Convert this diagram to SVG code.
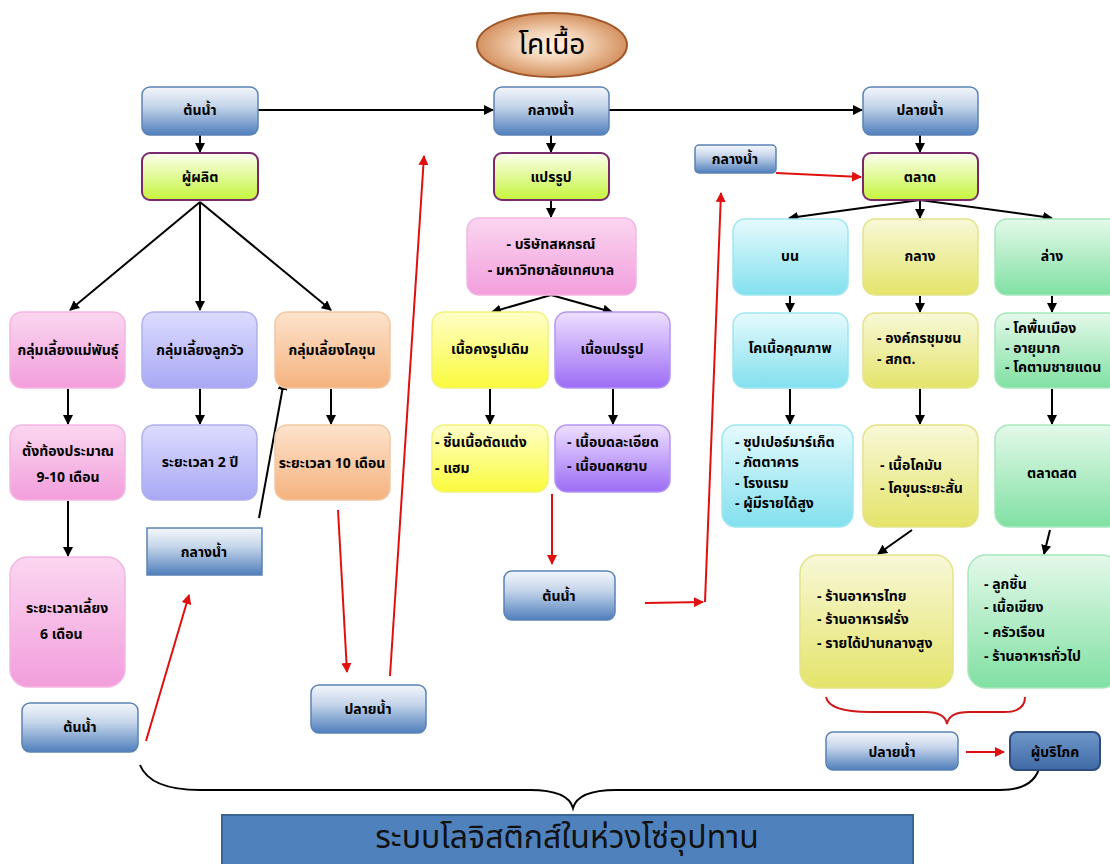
<svg xmlns="http://www.w3.org/2000/svg" width="1110" height="864" viewBox="0 0 1110 864">
<defs>
<linearGradient id="gBlue" x1="0" y1="0" x2="0" y2="1"><stop offset="0" stop-color="#f4f7fc"/><stop offset="0.4" stop-color="#c5d5ea"/><stop offset="1" stop-color="#4f7fbc"/></linearGradient>
<linearGradient id="gBlueDark" x1="0" y1="0" x2="0" y2="1"><stop offset="0" stop-color="#6f97c9"/><stop offset="1" stop-color="#3f6aa6"/></linearGradient>
<linearGradient id="gGreenY" x1="0" y1="0" x2="0" y2="1"><stop offset="0" stop-color="#fbfff0"/><stop offset="1" stop-color="#c6f53a"/></linearGradient>
<linearGradient id="gPink" x1="0" y1="0" x2="0" y2="1"><stop offset="0" stop-color="#fbd6f0"/><stop offset="1" stop-color="#f29edc"/></linearGradient>
<linearGradient id="gLav" x1="0" y1="0" x2="0" y2="1"><stop offset="0" stop-color="#dcdcff"/><stop offset="1" stop-color="#a8a8f4"/></linearGradient>
<linearGradient id="gOrange" x1="0" y1="0" x2="0" y2="1"><stop offset="0" stop-color="#fde3cc"/><stop offset="1" stop-color="#f5b27e"/></linearGradient>
<linearGradient id="gYellow" x1="0" y1="0" x2="0" y2="1"><stop offset="0" stop-color="#ffffc8"/><stop offset="1" stop-color="#fafa3c"/></linearGradient>
<linearGradient id="gPurple" x1="0" y1="0" x2="0" y2="1"><stop offset="0" stop-color="#eee0ff"/><stop offset="1" stop-color="#9c6cf5"/></linearGradient>
<linearGradient id="gCyan" x1="0" y1="0" x2="0" y2="1"><stop offset="0" stop-color="#e6fafd"/><stop offset="1" stop-color="#82e0ee"/></linearGradient>
<linearGradient id="gOlive" x1="0" y1="0" x2="0" y2="1"><stop offset="0" stop-color="#f8f8d8"/><stop offset="1" stop-color="#e4e46a"/></linearGradient>
<linearGradient id="gMint" x1="0" y1="0" x2="0" y2="1"><stop offset="0" stop-color="#e4f9ea"/><stop offset="1" stop-color="#80e0a2"/></linearGradient>
<radialGradient id="gTan" cx="0.5" cy="0.5" r="0.5"><stop offset="0" stop-color="#fff6ec"/><stop offset="0.45" stop-color="#f3d2b4"/><stop offset="1" stop-color="#d49160"/></radialGradient>
<marker id="ab" viewBox="0 0 10 10" refX="9" refY="5" markerWidth="5" markerHeight="5" orient="auto"><path d="M0,0 L10,5 L0,10 z" fill="#000"/></marker>
<marker id="ar" viewBox="0 0 10 10" refX="9" refY="5" markerWidth="5" markerHeight="5" orient="auto"><path d="M0,0 L10,5 L0,10 z" fill="#e01010"/></marker>
</defs>
<style>
text{font-family:"Noto Sans Thai","Noto Sans","DejaVu Sans",sans-serif;font-weight:bold;font-size:14px;fill:#000;}
.c{text-anchor:middle;dominant-baseline:central;}
.s{dominant-baseline:central;}
.blue{fill:url(#gBlue);stroke:#5b82b5;stroke-width:1.5;}
.grn{fill:url(#gGreenY);stroke:#7a2a6c;stroke-width:2;}
.pink{fill:url(#gPink);stroke:#f3b6e4;stroke-width:1.5;}
.lav{fill:url(#gLav);stroke:#b0b0ee;stroke-width:1.5;}
.org{fill:url(#gOrange);stroke:#f0c9a4;stroke-width:1.5;}
.yel{fill:url(#gYellow);stroke:#f2f27a;stroke-width:1.5;}
.pur{fill:url(#gPurple);stroke:#b497f0;stroke-width:1.5;}
.cya{fill:url(#gCyan);stroke:#9fe6f0;stroke-width:1.5;}
.oli{fill:url(#gOlive);stroke:#e4e48a;stroke-width:1.5;}
.mnt{fill:url(#gMint);stroke:#a6e8bc;stroke-width:1.5;}
.k{stroke:#000;stroke-width:2;fill:none;marker-end:url(#ab);}
.r{stroke:#e01010;stroke-width:2;fill:none;marker-end:url(#ar);}
</style>
<rect width="1110" height="864" fill="#fff"/>

<g id="connectors">
<line class="k" x1="258" y1="110" x2="493" y2="110"/>
<line class="k" x1="609" y1="110" x2="862" y2="110"/>
<line class="k" x1="200" y1="135" x2="200" y2="152"/>
<line class="k" x1="551" y1="135" x2="551" y2="152"/>
<line class="k" x1="920" y1="135" x2="920" y2="152"/>
<line class="k" x1="200" y1="202" x2="70" y2="310"/>
<line class="k" x1="200" y1="202" x2="200" y2="310"/>
<line class="k" x1="200" y1="202" x2="331" y2="310"/>
<line class="k" x1="68" y1="389" x2="68" y2="424"/>
<line class="k" x1="200" y1="389" x2="200" y2="424"/>
<line class="k" x1="331" y1="389" x2="331" y2="424"/>
<line class="k" x1="68" y1="501" x2="68" y2="556"/>
<line class="k" x1="259" y1="518" x2="284" y2="381"/>
<line class="k" x1="551" y1="200" x2="551" y2="217"/>
<line class="k" x1="551" y1="295" x2="492" y2="312"/>
<line class="k" x1="551" y1="295" x2="612" y2="312"/>
<line class="k" x1="490" y1="389" x2="490" y2="424"/>
<line class="k" x1="613" y1="389" x2="613" y2="424"/>
<line class="k" x1="920" y1="200" x2="789" y2="218"/>
<line class="k" x1="920" y1="200" x2="920" y2="218"/>
<line class="k" x1="920" y1="200" x2="1052" y2="218"/>
<line class="k" x1="790" y1="296" x2="790" y2="312"/>
<line class="k" x1="920" y1="296" x2="920" y2="312"/>
<line class="k" x1="1052" y1="296" x2="1052" y2="312"/>
<line class="k" x1="790" y1="389" x2="790" y2="424"/>
<line class="k" x1="920" y1="389" x2="920" y2="424"/>
<line class="k" x1="1052" y1="389" x2="1052" y2="424"/>
<line class="k" x1="912" y1="530" x2="878" y2="554"/>
<line class="k" x1="1050" y1="530" x2="1044" y2="554"/>
<line class="r" x1="146" y1="741" x2="189" y2="595"/>
<line class="r" x1="338" y1="510" x2="347" y2="672"/>
<line class="r" x1="390" y1="676" x2="424" y2="156"/>
<line class="r" x1="552" y1="494" x2="552" y2="564"/>
<line class="r" x1="645" y1="603" x2="703" y2="602"/>
<line class="r" x1="705" y1="602" x2="721" y2="193"/>
<line class="r" x1="776" y1="173" x2="861" y2="177"/>
<line class="r" x1="966" y1="752" x2="1004" y2="752"/>
<path d="M826,697 Q829,712 870,712 L925,712 Q945,712 947,724 Q949,712 969,712 L1004,712 Q1025,712 1025,697" fill="none" stroke="#d01818" stroke-width="2"/>
<path d="M140,765 Q150,790 200,790 L530,790 Q568,790 573,808 Q578,790 616,790 L1000,790 Q1035,790 1040,765" fill="none" stroke="#000" stroke-width="2"/>
</g>

<g id="n-kohneua"><ellipse cx="552" cy="45" rx="75" ry="32" fill="url(#gTan)" stroke="#a0582a" stroke-width="2"/><text class="c" x="552" y="45" style="font-size:28px;font-weight:normal">โคเนื้อ</text></g>

<g id="n-tonnam"><rect class="blue" x="142" y="87" width="116" height="48" rx="8"/><text class="c" x="200" y="110">ต้นน้ำ</text></g>
<g id="n-klangnam"><rect class="blue" x="494" y="87" width="115" height="48" rx="8"/><text class="c" x="551" y="110">กลางน้ำ</text></g>
<g id="n-plainam"><rect class="blue" x="863" y="87" width="115" height="48" rx="8"/><text class="c" x="920" y="110">ปลายน้ำ</text></g>

<g id="n-producer"><rect class="grn" x="142" y="153" width="116" height="47" rx="8"/><text class="c" x="200" y="177">ผู้ผลิต</text></g>
<g id="n-process"><rect class="grn" x="494" y="153" width="115" height="47" rx="8"/><text class="c" x="551" y="177">แปรรูป</text></g>
<g id="n-market"><rect class="grn" x="863" y="153" width="115" height="47" rx="8"/><text class="c" x="920" y="177">ตลาด</text></g>

<g id="n-g1"><rect class="pink" x="10" y="312" width="115" height="76" rx="12"/><text class="c" x="68" y="350">กลุ่มเลี้ยงแม่พันธุ์</text></g>
<g id="n-g2"><rect class="lav" x="142" y="312" width="115" height="76" rx="12"/><text class="c" x="200" y="350">กลุ่มเลี้ยงลูกวัว</text></g>
<g id="n-g3"><rect class="org" x="275" y="312" width="115" height="76" rx="12"/><text class="c" x="332" y="350">กลุ่มเลี้ยงโคขุน</text></g>

<g id="n-g1a"><rect class="pink" x="10" y="425" width="115" height="75" rx="12"/><text class="c" x="68" y="451">ตั้งท้องประมาณ</text><text class="c" x="68" y="477">9-10 เดือน</text></g>
<g id="n-g2a"><rect class="lav" x="142" y="425" width="115" height="75" rx="12"/><text class="c" x="200" y="462">ระยะเวลา 2 ปี</text></g>
<g id="n-g3a"><rect class="org" x="275" y="425" width="115" height="75" rx="12"/><text class="c" x="332" y="463">ระยะเวลา 10 เดือน</text></g>

<g id="n-g1b"><rect class="pink" x="10" y="557" width="115" height="130" rx="18"/><text class="s" x="26" y="608">ระยะเวลาเลี้ยง</text><text class="s" x="40" y="634">6 เดือน</text></g>

<g id="n-klangnam2"><rect class="blue" x="147" y="528" width="115" height="47"/><text class="c" x="204" y="552">กลางน้ำ</text></g>
<g id="n-tonnam2"><rect class="blue" x="22" y="703" width="116" height="49" rx="8"/><text class="c" x="80" y="727">ต้นน้ำ</text></g>
<g id="n-plainam2"><rect class="blue" x="311" y="685" width="115" height="48" rx="8"/><text class="c" x="368" y="709">ปลายน้ำ</text></g>

<g id="n-company"><rect class="pink" x="467" y="218" width="169" height="77" rx="12"/><text class="c" x="551" y="244">- บริษัทสหกรณ์</text><text class="c" x="551" y="270">- มหาวิทยาลัยเทศบาล</text></g>
<g id="n-meat1"><rect class="yel" x="432" y="312" width="116" height="76" rx="12"/><text class="c" x="490" y="349">เนื้อคงรูปเดิม</text></g>
<g id="n-meat2"><rect class="pur" x="555" y="312" width="115" height="76" rx="12"/><text class="c" x="612" y="349">เนื้อแปรรูป</text></g>
<g id="n-meat1a"><rect class="yel" x="432" y="425" width="116" height="67" rx="12"/><text class="s" x="435" y="442">- ชิ้นเนื้อตัดแต่ง</text><text class="s" x="435" y="468">- แฮม</text></g>
<g id="n-meat2a"><rect class="pur" x="555" y="425" width="115" height="67" rx="12"/><text class="s" x="567" y="442">- เนื้อบดละเอียด</text><text class="s" x="567" y="466">- เนื้อบดหยาบ</text></g>
<g id="n-tonnam3"><rect class="blue" x="504" y="571" width="111" height="49" rx="8"/><text class="c" x="559" y="596">ต้นน้ำ</text></g>
<g id="n-klangnam3"><rect class="blue" x="695" y="145" width="81" height="28" rx="4"/><text class="c" x="735" y="159">กลางน้ำ</text></g>

<g id="n-bon"><rect class="cya" x="733" y="219" width="115" height="76" rx="12"/><text class="c" x="790" y="256">บน</text></g>
<g id="n-klang"><rect class="oli" x="863" y="219" width="115" height="76" rx="12"/><text class="c" x="920" y="256">กลาง</text></g>
<g id="n-lang"><rect class="mnt" x="995" y="219" width="125" height="76" rx="12"/><text class="c" x="1052" y="256">ล่าง</text></g>

<g id="n-bon2"><rect class="cya" x="733" y="313" width="115" height="75" rx="12"/><text class="c" x="790" y="348">โคเนื้อคุณภาพ</text></g>
<g id="n-klang2"><rect class="oli" x="863" y="313" width="115" height="75" rx="12"/><text class="s" x="877" y="338">- องค์กรชุมชน</text><text class="s" x="877" y="359">- สกต.</text></g>
<g id="n-lang2"><rect class="mnt" x="995" y="313" width="125" height="75" rx="12"/><text class="s" x="1005" y="328">- โคพื้นเมือง</text><text class="s" x="1005" y="348">- อายุมาก</text><text class="s" x="1005" y="367">- โคตามชายแดน</text></g>

<g id="n-bon3"><rect class="cya" x="722" y="425" width="131" height="102" rx="14"/><text class="s" x="735" y="442">- ซุปเปอร์มาร์เก็ต</text><text class="s" x="735" y="462">- ภัตตาคาร</text><text class="s" x="735" y="483">- โรงแรม</text><text class="s" x="735" y="503">- ผู้มีรายได้สูง</text></g>
<g id="n-klang3"><rect class="oli" x="863" y="425" width="115" height="102" rx="14"/><text class="s" x="880" y="465">- เนื้อโคมัน</text><text class="s" x="880" y="488">- โคขุนระยะสั้น</text></g>
<g id="n-lang3"><rect class="mnt" x="995" y="425" width="125" height="102" rx="14"/><text class="c" x="1052" y="473">ตลาดสด</text></g>

<g id="n-klang4"><rect class="oli" x="800" y="555" width="153" height="133" rx="18"/><text class="s" x="817" y="596">- ร้านอาหารไทย</text><text class="s" x="817" y="619">- ร้านอาหารฝรั่ง</text><text class="s" x="817" y="643">- รายได้ปานกลางสูง</text></g>
<g id="n-lang4"><rect class="mnt" x="968" y="555" width="152" height="133" rx="18"/><text class="s" x="984" y="584">- ลูกชิ้น</text><text class="s" x="984" y="607">- เนื้อเขียง</text><text class="s" x="984" y="632">- ครัวเรือน</text><text class="s" x="984" y="656">- ร้านอาหารทั่วไป</text></g>

<g id="n-plainam3"><rect class="blue" x="826" y="732" width="132" height="38" rx="7"/><text class="c" x="892" y="752">ปลายน้ำ</text></g>
<g id="n-consumer"><rect x="1010" y="732" width="90" height="38" rx="7" fill="url(#gBlueDark)" stroke="#2c4d7e" stroke-width="2"/><text class="c" x="1055" y="752">ผู้บริโภค</text></g>

<g id="n-title"><rect x="222" y="815" width="691" height="52" fill="#4f81bd" stroke="#3a6597" stroke-width="2"/><text class="c" x="567" y="838" style="font-size:32px;font-weight:normal;fill:#111">ระบบโลจิสติกส์ในห่วงโซ่อุปทาน</text></g>
</svg>
